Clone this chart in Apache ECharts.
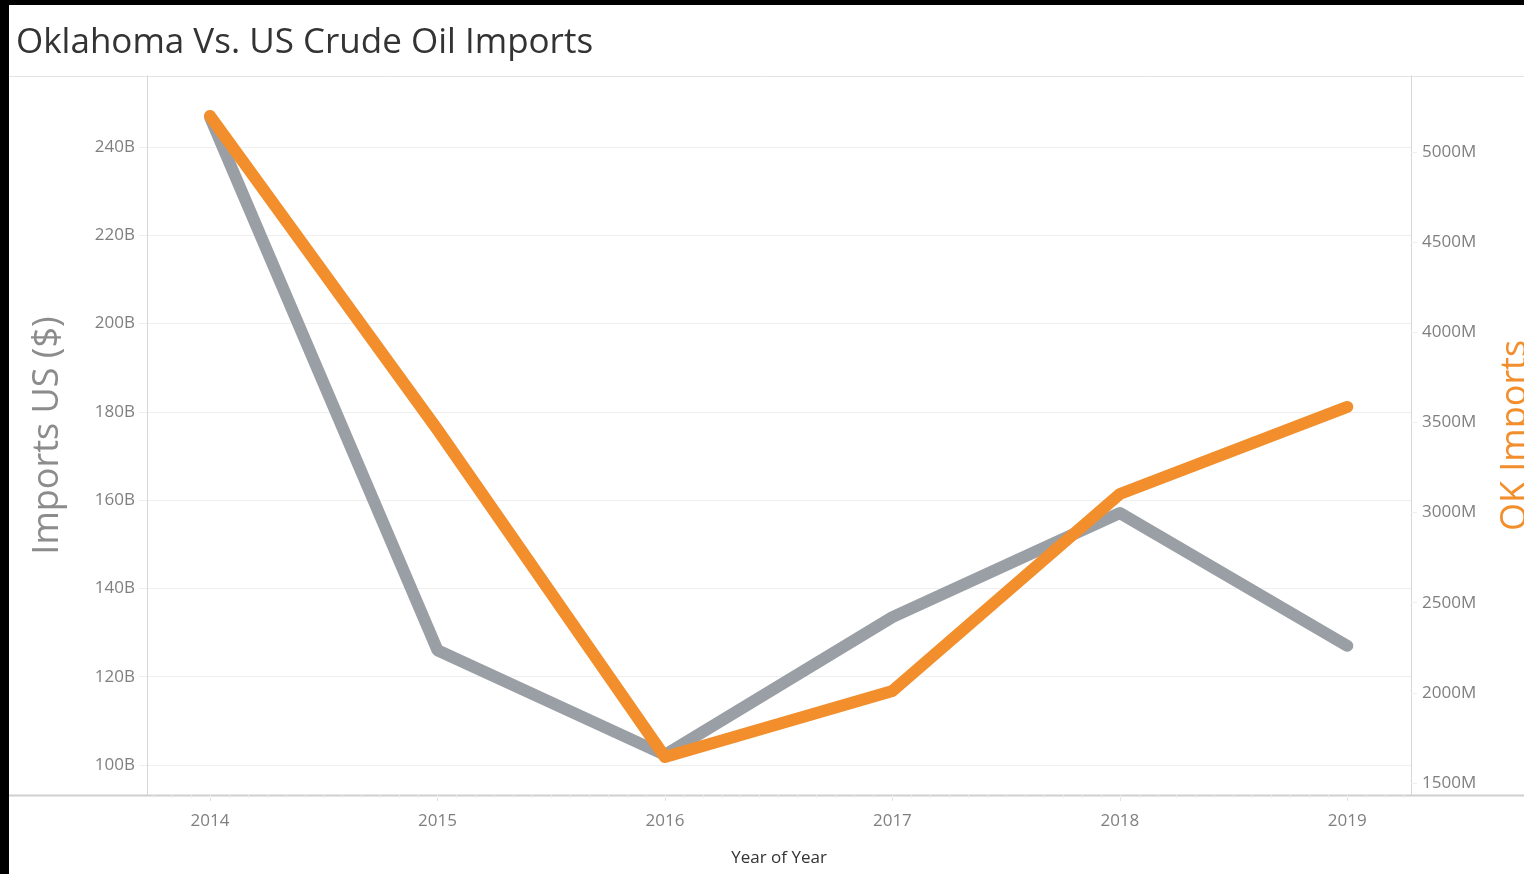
<!DOCTYPE html>
<html>
<head>
<meta charset="utf-8">
<script src="https://cdn.jsdelivr.net/npm/echarts@6/dist/echarts.min.js"></script>
<style>
  html, body { margin: 0; padding: 0; background: #000; overflow: hidden; }
  #main { position: absolute; left: 9px; top: 5px; width: 1515px; height: 869px; background: #fff; }
</style>
</head>
<body>
<div id="main"></div>
<script>
// data
const years = [2014, 2015, 2016, 2017, 2018, 2019]
const usImports = [246.8, 126.0, 102.3, 133.5, 157.1, 127.0] // billions $
const okImports = [5200, 3460, 1644, 2010, 3103, 3586] // millions $
const leftTicks = [100, 120, 140, 160, 180, 200, 220, 240]
const rightTicks = [1500, 2000, 2500, 3000, 3500, 4000, 4500, 5000]

// month ticks under the year axis
const monthTicks = []
for (let y = 2013; y <= 2019; y++) {
  for (let m = 0; m < 12; m++) monthTicks.push(y + m / 12)
}

const labelColor = '#7f7f7f'
const gridColor = '#efefef'
const borderColor = '#d6d6d6'

const chart = echarts.init(document.getElementById('main'))
chart.setOption({
  animation: false,
  title: {
    text: 'Oklahoma Vs. US Crude Oil Imports',
    left: 2,
    top: 16,
    textStyle: { fontFamily: 'Open Sans', fontWeight: 'normal', fontSize: 35, color: '#333' }
  },
  grid: { left: 138, right: 113, top: 71, bottom: 79, containLabel: false, outerBoundsMode: 'none' },
  xAxis: [{
    type: 'value',
    min: 2013.723,
    max: 2019.28,
    name: 'Year of Year',
    nameLocation: 'middle',
    nameGap: 55,
    nameTextStyle: { fontFamily: 'Open Sans', fontSize: 17, color: '#333' },
    axisLine: { show: false },
    axisTick: { show: true, customValues: years, length: 6, lineStyle: { color: '#e2e2e2' } },
    axisLabel: {
      customValues: years,
      margin: 18,
      fontFamily: 'Open Sans',
      fontSize: 17,
      color: labelColor,
      formatter: v => String(v)
    },
    splitLine: { show: false }
  }, {
    type: 'value',
    min: 2013.723,
    max: 2019.28,
    position: 'bottom',
    axisLine: { show: false },
    axisTick: { show: true, customValues: monthTicks, length: 3, lineStyle: { color: '#ececec' } },
    axisLabel: { show: false },
    splitLine: { show: false }
  }],
  yAxis: [{
    type: 'value',
    min: 93.2,
    max: 256.1,
    position: 'left',
    name: 'Imports US ($)',
    nameLocation: 'middle',
    nameRotate: 90,
    nameGap: 81,
    nameTextStyle: { fontFamily: 'Open Sans', fontSize: 36, color: '#8c8c8c' },
    axisLine: { show: true, lineStyle: { color: borderColor, width: 1 } },
    axisTick: { show: true, customValues: leftTicks, length: 8, lineStyle: { color: gridColor } },
    axisLabel: {
      customValues: leftTicks,
      margin: 12,
      fontFamily: 'Open Sans',
      fontSize: 17,
      color: labelColor,
      formatter: v => v + 'B'
    },
    splitLine: { show: true, lineStyle: { color: gridColor, width: 1 } }
  }, {
    type: 'value',
    min: 1433.4,
    max: 5421.6,
    position: 'right',
    name: 'OK Imports',
    nameLocation: 'middle',
    nameRotate: 90,
    nameGap: 87,
    nameTextStyle: { fontFamily: 'Open Sans', fontSize: 36, color: '#f28e2b' },
    axisLine: { show: true, lineStyle: { color: borderColor, width: 1 } },
    axisTick: { show: true, customValues: rightTicks, length: 6, lineStyle: { color: gridColor } },
    axisLabel: {
      customValues: rightTicks,
      margin: 11,
      fontFamily: 'Open Sans',
      fontSize: 17,
      color: labelColor,
      formatter: v => v + 'M'
    },
    splitLine: { show: false }
  }],
  // frame lines that run the full width
  graphic: [
    { type: 'line', shape: { x1: 0, y1: 71.5, x2: 1515, y2: 71.5 }, style: { stroke: '#e3e3e3', lineWidth: 1 } },
    { type: 'line', shape: { x1: 0, y1: 790.5, x2: 1515, y2: 790.5 }, style: { stroke: '#cfcfcf', lineWidth: 2 } }
  ],
  series: [{
    name: 'US',
    type: 'line',
    xAxisIndex: 0,
    yAxisIndex: 0,
    data: years.map((y, i) => [y, usImports[i]]),
    symbol: 'none',
    lineStyle: { color: '#9a9fa5', width: 12, cap: 'round', join: 'round' }
  }, {
    name: 'OK',
    type: 'line',
    xAxisIndex: 0,
    yAxisIndex: 1,
    data: years.map((y, i) => [y, okImports[i]]),
    symbol: 'none',
    lineStyle: { color: '#f28e2b', width: 12, cap: 'round', join: 'round' }
  }]
})
</script>
</body>
</html>
